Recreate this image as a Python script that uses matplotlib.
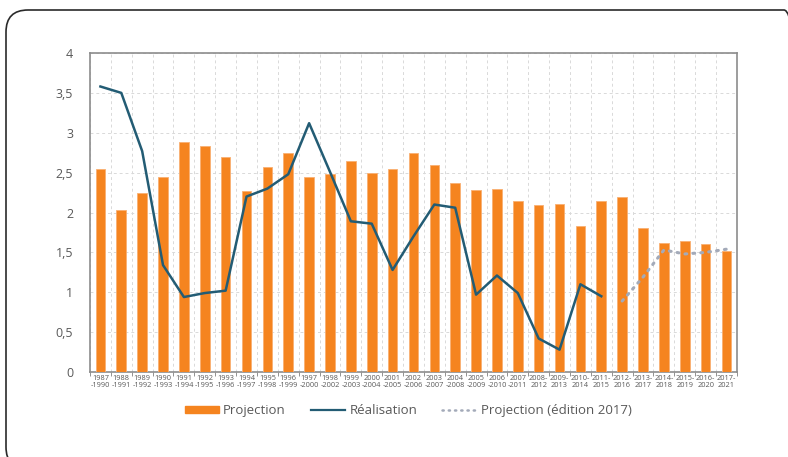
import matplotlib
matplotlib.use("Agg")
import matplotlib.pyplot as plt
from matplotlib.patches import FancyBboxPatch, Patch
from matplotlib.lines import Line2D
import numpy as np

categories = ["1987\n-1990", "1988\n-1991", "1989\n-1992", "1990\n-1993", "1991\n-1994",
              "1992\n-1995", "1993\n-1996", "1994\n-1997", "1995\n-1998", "1996\n-1999",
              "1997\n-2000", "1998\n-2002", "1999\n-2003", "2000\n-2004", "2001\n-2005",
              "2002\n-2006", "2003\n-2007", "2004\n-2008", "2005\n-2009", "2006\n-2010",
              "2007\n-2011", "2008-\n2012", "2009-\n2013", "2010-\n2014", "2011-\n2015",
              "2012-\n2016", "2013-\n2017", "2014-\n2018", "2015-\n2019", "2016-\n2020",
              "2017-\n2021"]

projection = [2.55, 2.03, 2.25, 2.45, 2.88, 2.83, 2.70, 2.27, 2.57, 2.74,
              2.45, 2.48, 2.64, 2.49, 2.55, 2.74, 2.60, 2.37, 2.28, 2.29,
              2.15, 2.09, 2.11, 1.83, 2.15, 2.20, 1.81, 1.62, 1.64, 1.60, 1.52]

realisation = [3.58, 3.50, 2.77, 1.34, 0.94, 0.99, 1.02, 2.20, 2.30, 2.48,
               3.12, 2.51, 1.89, 1.86, 1.28, 1.70, 2.10, 2.06, 0.97, 1.21,
               0.99, 0.42, 0.28, 1.10, 0.95]

projection_2017 = [0.89, 1.19, 1.53, 1.48, 1.50, 1.54]
projection_2017_start = 25

yticks = [0, 0.5, 1, 1.5, 2, 2.5, 3, 3.5, 4]
ytick_labels = ["0", "0,5", "1", "1,5", "2", "2,5", "3", "3,5", "4"]

plt.rcParams['font.family'] = ['Open Sans', 'DejaVu Sans']

fig = plt.figure(figsize=(7.88, 4.57), dpi=100)
ax = fig.add_axes([0.1142, 0.186, 0.8210, 0.698])

x = np.arange(len(categories))
orange = "#F5841F"
teal = "#235C74"
dotc = "#A3AAB9"
grey = "#595959"

ax.bar(x, projection, width=0.46, color=orange, edgecolor="#F9B072", linewidth=0.6, zorder=3)
ax.plot(x[:len(realisation)], realisation, color=teal, linewidth=1.8, zorder=4)
xs = x[projection_2017_start:projection_2017_start + len(projection_2017)]
ax.plot(xs, projection_2017, color=dotc, linewidth=2.2, linestyle=(0, (0.6, 2.0)),
        dash_capstyle="round", zorder=4)

ax.set_xlim(-0.5, len(categories) - 0.5)
ax.set_ylim(0, 4)
ax.set_yticks(yticks)
ax.set_yticklabels(ytick_labels, fontsize=9, color=grey)
ax.set_xticks(x)
ax.set_xticklabels(categories, fontsize=5.3, color=grey, linespacing=1.0)
ax.tick_params(axis="x", length=0, pad=2)
ax.tick_params(axis="y", length=0, pad=12)
ax.set_xticks(np.arange(-0.5, len(categories), 1), minor=True)
ax.tick_params(axis="x", which="minor", length=3, color="#808080")
ax.grid(which="minor", axis="x", color="#D9D9D9", linestyle=(0, (3, 3)), linewidth=0.7, zorder=0)
ax.grid(which="major", axis="y", color="#D9D9D9", linestyle=(0, (3, 3)), linewidth=0.7, zorder=0)
ax.grid(which="major", axis="x", visible=False)
for s in ax.spines.values():
    s.set_color("#8C8C8C")
    s.set_linewidth(1.2)

handles = [Patch(facecolor=orange, edgecolor=orange),
           Line2D([0], [0], color=teal, linewidth=1.6),
           Line2D([0], [0], color=dotc, linewidth=1.8, linestyle=(0, (0.5, 2.0)),
                  dash_capstyle="round")]
labels = ["Projection", "Réalisation", "Projection (édition 2017)"]
leg = fig.legend(handles, labels, loc="center", bbox_to_anchor=(0.518, 0.101), ncol=3,
                 frameon=False, fontsize=9.5, handlelength=2.6, handleheight=0.5,
                 columnspacing=1.9, handletextpad=0.3)
for t in leg.get_texts():
    t.set_color(grey)

# rounded frame, partly running off the right and bottom edges
W, H = 788.0, 457.0
frame = FancyBboxPatch((6 / W, 1 - 469 / H), (806 - 6) / W, (469 - 10) / H,
                       boxstyle="round,pad=0,rounding_size=%f" % (22 / W),
                       transform=fig.transFigure, facecolor="none", edgecolor="#2A2A2A",
                       linewidth=1.2, mutation_aspect=W / H, clip_on=False)
fig.patches.append(frame)

fig.savefig("out.png", dpi=100)
